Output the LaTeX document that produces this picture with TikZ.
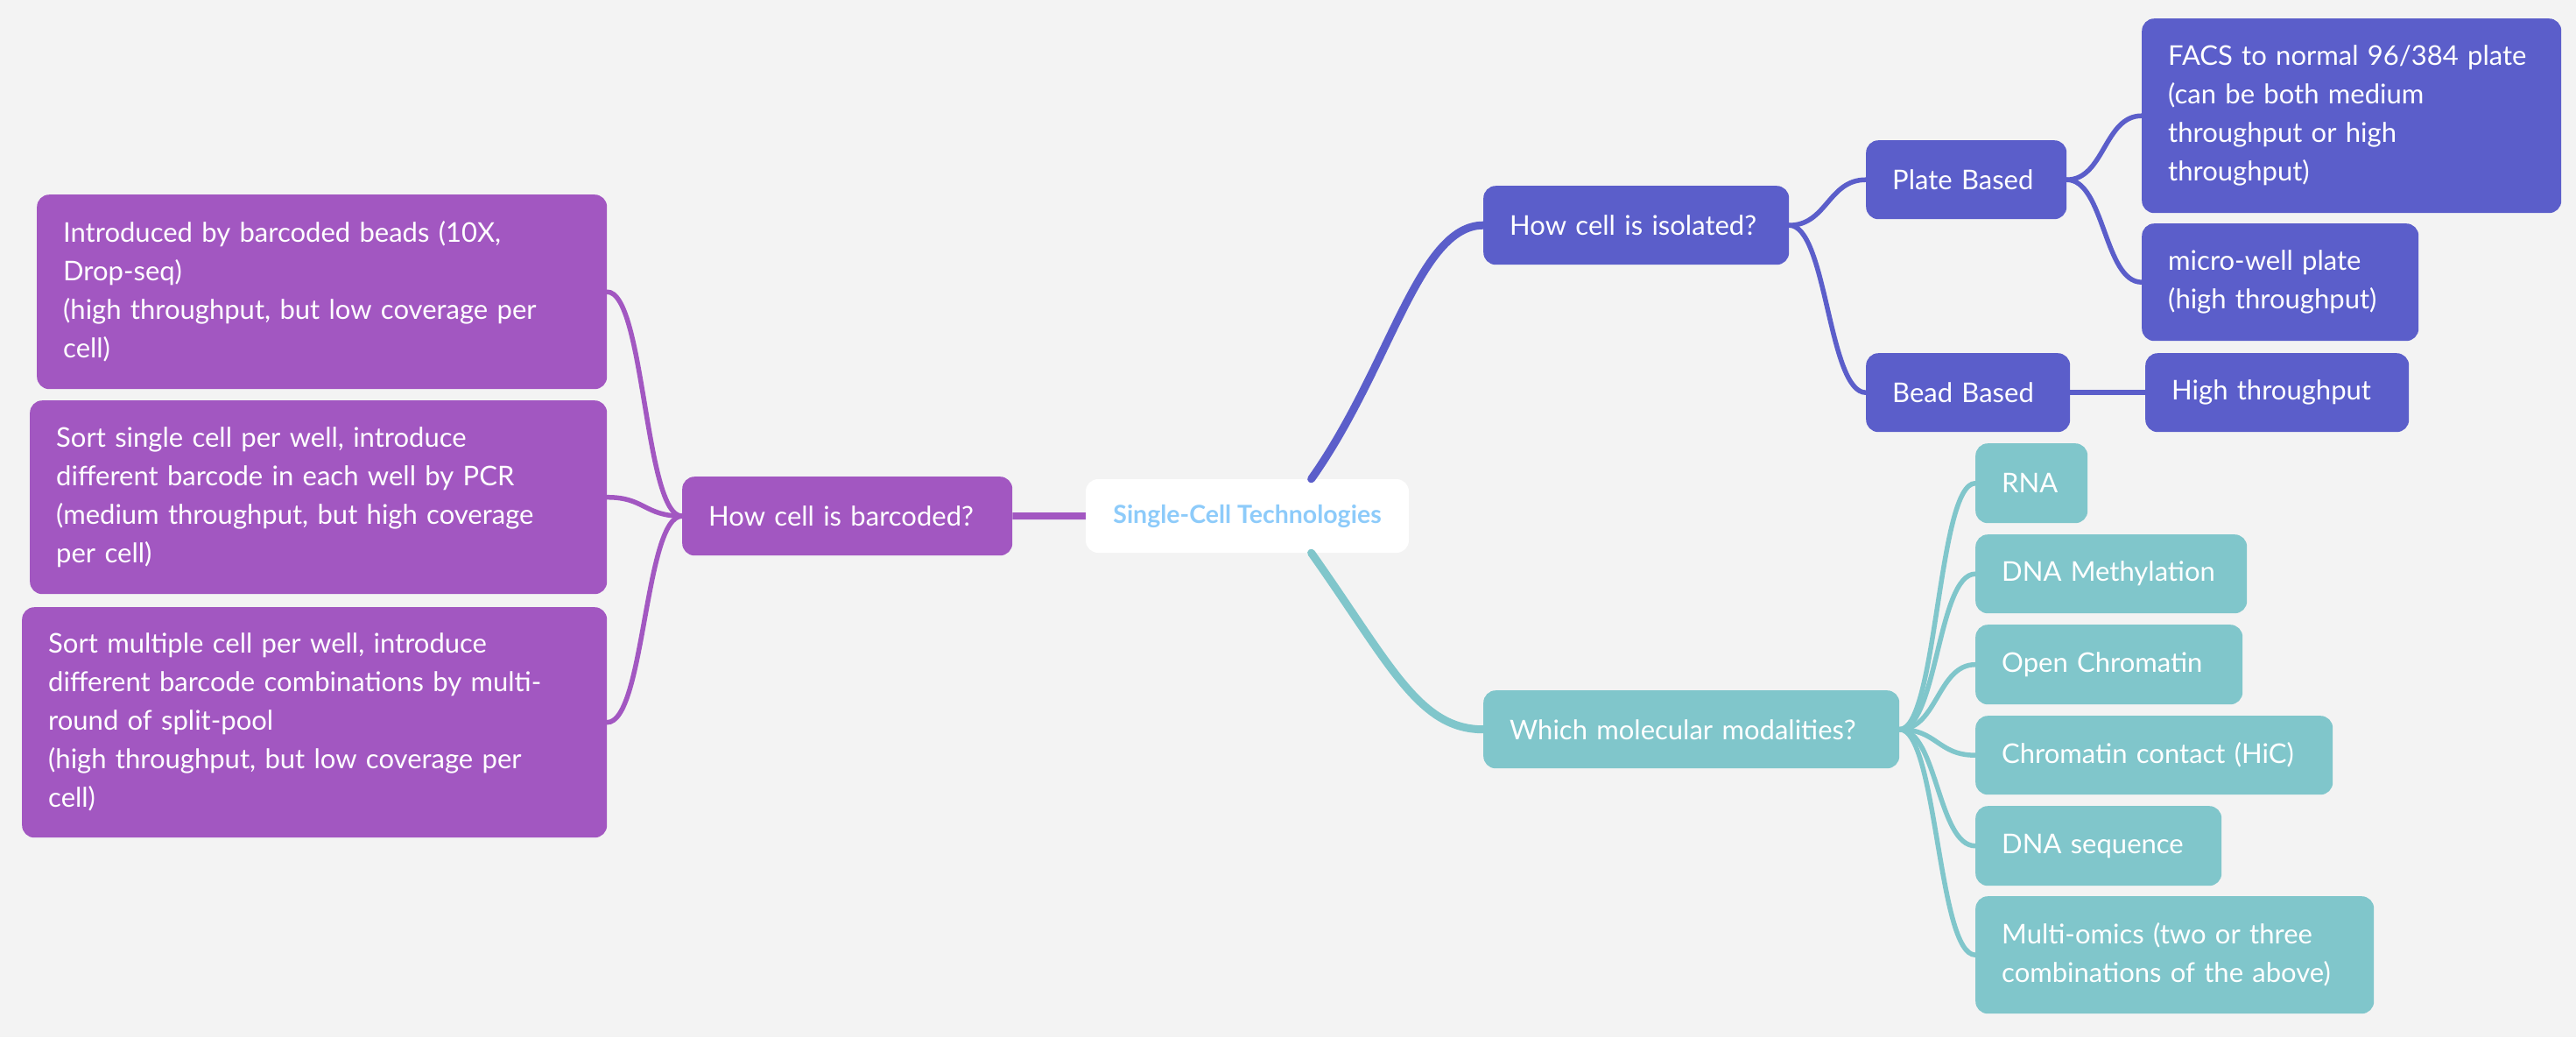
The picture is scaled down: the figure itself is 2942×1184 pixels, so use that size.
\documentclass[tikz,border=0pt]{standalone}
\usepackage{fontspec}
\setmainfont{Lato}
\usepackage{tikz}
\definecolor{cback}{HTML}{F3F3F3}
\definecolor{cpurple}{HTML}{A257C1}
\definecolor{cblue}{HTML}{5B5ECA}
\definecolor{cteal}{HTML}{80C6CB}
\definecolor{csky}{HTML}{8DCBFA}

\begin{document}
\begin{tikzpicture}[x=1pt,y=-1pt,
  box/.style={rectangle,rounded corners=14pt,anchor=north west,align=left,
    text=white,inner xsep=30pt,inner ysep=0pt,font=\fontsize{31}{44}\selectfont},
  center node/.style={rectangle,rounded corners=14pt,fill=white,text=csky,
    minimum width=369pt,minimum height=84pt,font=\fontsize{28.5}{30}\selectfont\bfseries},
  purple node/.style={box,fill=cpurple},
  blue node/.style={box,fill=cblue},
  teal node/.style={box,fill=cteal},
  left branch/.style={to path={.. controls +(-43,0) and +(43,0) .. (\tikztotarget)}},
  right branch/.style={to path={.. controls +(43,0) and +(-43,0) .. (\tikztotarget)}}]
  \useasboundingbox (0,0) rectangle (2942,1184);
  \fill[cback] (0,0) rectangle (2942,1184);

  \node[center node] (root) at (1424.5,589) {Single-Cell Technologies};

  % barcoding
  \node[purple node,text width=317pt,minimum height=90pt] (bar) at (779,544) {How cell is barcoded?};
  \node[purple node,text width=591pt,minimum height=222pt] (la) at (42,222)
    {Introduced by barcoded beads (10X,\\Drop-seq)\\(high throughput, but low coverage per\\cell)};
  \node[purple node,text width=599pt,minimum height=221pt] (lb) at (34,457)
    {Sort single cell per well, introduce\\different barcode in each well by PCR\\(medium throughput, but high coverage\\per cell)};
  \node[purple node,text width=608pt,minimum height=263pt] (lc) at (25,693)
    {Sort multiple cell per well, introduce\\different barcode combinations by multi-\\round of split-pool\\(high throughput, but low coverage per\\cell)};

  % isolation
  \node[blue node,text width=289pt,minimum height=90pt] (iso) at (1694,212) {How cell is isolated?};
  \node[blue node,text width=169pt,minimum height=90pt] (plate) at (2131,160) {Plate Based};
  \node[blue node,text width=173pt,minimum height=90pt] (bead) at (2131,403) {Bead Based};
  \node[blue node,text width=419pt,minimum height=222pt] (facs) at (2446,21)
    {FACS to normal 96/384 plate\\(can be both medium\\throughput or high\\throughput)};
  \node[blue node,text width=256pt,minimum height=134pt] (micro) at (2446,255)
    {micro-well plate\\(high throughput)};
  \node[blue node,text width=241pt,minimum height=90pt] (high) at (2450,403) {High throughput};

  % modalities
  \node[teal node,text width=415pt,minimum height=89pt] (which) at (1694,788) {Which molecular modalities?};
  \node[teal node,text width=68pt,minimum height=91pt] (rna) at (2256,506) {RNA};
  \node[teal node,text width=250pt,minimum height=90pt] (meth) at (2256,610) {DNA Methylation};
  \node[teal node,text width=245pt,minimum height=91pt] (open) at (2256,713) {Open Chromatin};
  \node[teal node,text width=348pt,minimum height=90pt] (hic) at (2256,817) {Chromatin contact (HiC)};
  \node[teal node,text width=221pt,minimum height=91pt] (seq) at (2256,920) {DNA sequence};
  \node[teal node,text width=395pt,minimum height=134pt] (multi) at (2256,1023)
    {Multi-omics (two or three\\combinations of the above)};

  % main branches
  \draw[cpurple,line width=8pt] (root.west) -- (bar.east);
  \draw[cblue,line width=9pt,line cap=round] (root.30) .. controls +(90,-127) and +(-74,0) .. (iso.west);
  \draw[cteal,line width=9pt,line cap=round] (root.-30) .. controls +(90,127) and +(-74,0) .. (which.west);

  \path[cpurple,line width=5.5pt,line cap=round]
    (bar.west) edge[left branch] (la.east)
    (bar.west) edge[left branch] (lb.east)
    (bar.west) edge[left branch] (lc.east);
  \path[cblue,line width=5.5pt,line cap=round]
    (iso.east) edge[right branch] (plate.west)
    (iso.east) edge[right branch] (bead.west)
    (plate.east) edge[right branch] (facs.west)
    (plate.east) edge[right branch] (micro.west)
    (bead.east) edge[right branch] (high.west);
  \path[cteal,line width=5.5pt,line cap=round]
    (which.east) edge[right branch] (rna.west)
    (which.east) edge[right branch] (meth.west)
    (which.east) edge[right branch] (open.west)
    (which.east) edge[right branch] (hic.west)
    (which.east) edge[right branch] (seq.west)
    (which.east) edge[right branch] (multi.west);
\end{tikzpicture}
\end{document}
